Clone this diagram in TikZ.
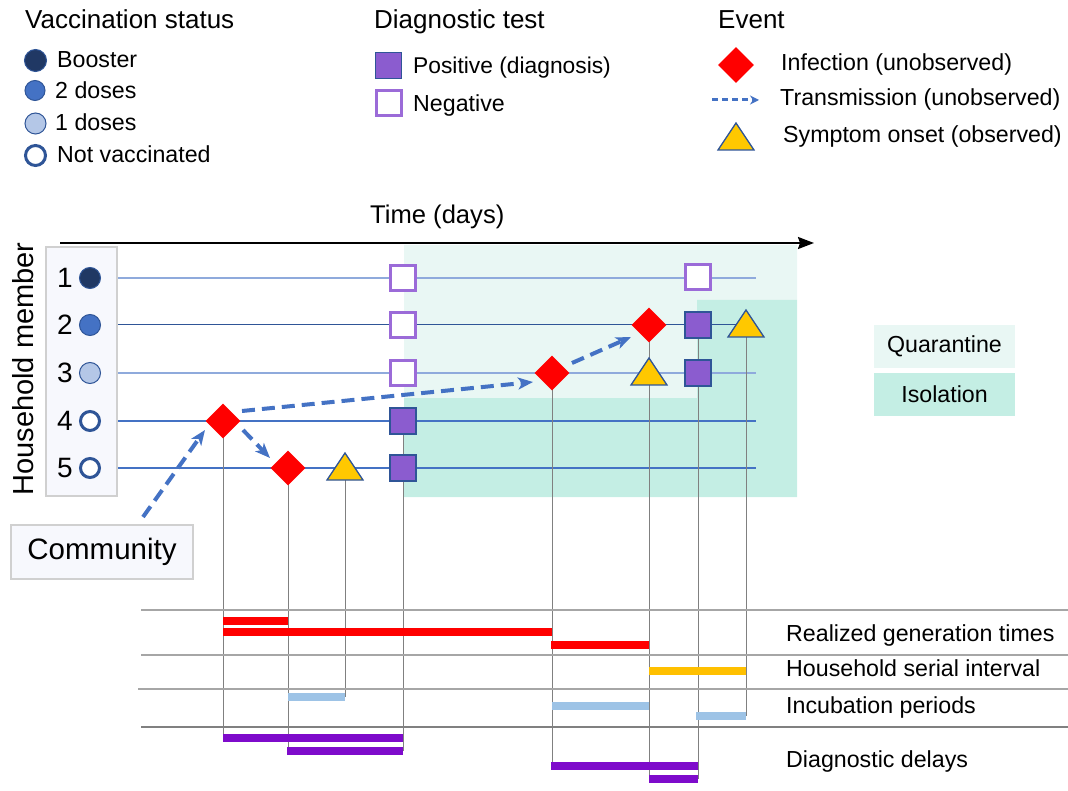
\documentclass[tikz,border=0pt]{standalone}
\usepackage{fontspec}
\setmainfont{Liberation Sans}
\usetikzlibrary{shapes.geometric,arrows.meta,calc}
\pgfdeclarelayer{bg}
\pgfdeclarelayer{mid}
\pgfsetlayers{bg,mid,main}
\definecolor{navy}{HTML}{203864}
\definecolor{mblue}{HTML}{4472C4}
\definecolor{lblue}{HTML}{B4C7E7}
\definecolor{dblue}{HTML}{2F5597}
\definecolor{rowlight}{HTML}{8FAADC}
\definecolor{posc}{HTML}{8B5CCF}
\definecolor{negc}{HTML}{9B6BD8}
\definecolor{tric}{HTML}{FFC800}
\definecolor{qcol}{HTML}{E9F7F4}
\definecolor{icol}{HTML}{C4EEE4}
\definecolor{barpurple}{HTML}{7E0BCB}
\definecolor{barblue}{HTML}{9DC3E6}
\definecolor{barorange}{HTML}{FFC000}
\definecolor{sepgray}{HTML}{A6A6A6}
\definecolor{vgray}{HTML}{808080}
\definecolor{boxgray}{HTML}{D0D0D0}
\definecolor{boxfill}{HTML}{F7F8FD}
\tikzset{
  txt/.style={font=\fontsize{23.2}{28}\selectfont, inner sep=0pt, anchor=base west},
  head/.style={font=\fontsize{26}{30}\selectfont, inner sep=0pt, anchor=base west},
  negsq/.style={rectangle, draw=negc, line width=3pt, fill=white, minimum size=25pt, inner sep=0pt},
  possq/.style={rectangle, draw=dblue, line width=1.4pt, fill=posc, minimum size=26pt, inner sep=0pt},
  inf/.style={diamond, fill=red, minimum size=35pt, inner sep=0pt, aspect=1},
  trans/.style={draw=mblue, line width=4pt, dash pattern=on 13pt off 7pt, -{Stealth[length=15pt,width=12pt,inset=4pt]}},
  rowline/.style={draw=mblue, line width=1.2pt},
  vline/.style={draw=vgray, line width=1pt},
  sep/.style={draw=sepgray, line width=2pt},
  bar/.style={line width=8pt},
  vacc/.style={circle, inner sep=0pt, minimum size=21pt},
  tri/.pic={\draw[fill=tric, draw=dblue, line width=1.3pt, line join=miter] (-18,12) -- (18,12) -- (0,-15) -- cycle;},
}
\begin{document}
\begin{tikzpicture}[x=1pt,y=-1pt]
\useasboundingbox (0,0) rectangle (1068,791);

% ---------- Legend: vaccination ----------
\node[head] (hv) at (25,29) {Vaccination status};
\node[vacc, fill=navy, draw=dblue, line width=1pt, minimum size=22pt] (lv1) at (35.5,60.5) {};
\node[txt] (tv1) at (57,68) {Booster};
\node[vacc, fill=mblue, draw=dblue, line width=1pt, minimum size=20pt] (lv2) at (35,90.5) {};
\node[txt] (tv2) at (55,99) {2 doses};
\node[vacc, fill=lblue, draw=dblue, line width=1pt] (lv3) at (35.5,123.5) {};
\node[txt] (tv3) at (55,131) {1 doses};
\node[vacc, fill=white, draw=dblue, line width=3pt, minimum size=20pt] (lv4) at (35.5,155.5) {};
\node[txt] (tv4) at (57,163) {Not vaccinated};

% ---------- Legend: diagnostic test ----------
\node[head] (hd) at (374,29) {Diagnostic test};
\node[possq] (lp) at (388.5,65.5) {};
\node[txt, font=\fontsize{22.8}{28}\selectfont] (tp) at (413,74) {Positive (diagnosis)};
\node[negsq] (ln) at (389,103.5) {};
\node[txt] (tn) at (413,112) {Negative};

% ---------- Legend: event ----------
\node[head] (he) at (718,29) {Event};
\node[inf, minimum size=36pt] (li) at (736,65) {};
\node[txt] (ti) at (781,71) {Infection (unobserved)};
\coordinate (lta) at (712,100);
\coordinate (ltb) at (759,100);
\draw[draw=mblue, line width=3pt, dash pattern=on 6pt off 4pt, -{Stealth[length=9pt,width=9pt,inset=3pt]}] (lta) -- (ltb);
\node[txt] (tt) at (780,106) {Transmission (unobserved)};
\coordinate (ls) at (736,138);
\pic at (ls) {tri};
\node[txt] (ts) at (783,143) {Symptom onset (observed)};

% ---------- Time axis ----------
\node[font=\fontsize{25.6}{30}\selectfont, inner sep=0pt, anchor=base west] (time) at (370,224) {Time (days)};
\coordinate (ta) at (60,243);
\coordinate (tb) at (814,243);
\draw[line width=2pt, -{Stealth[length=16pt,width=12pt,inset=2pt]}] (ta) -- (tb);

% ---------- Shading ----------
\begin{pgfonlayer}{bg}
\fill[qcol] (404,245) -- (797,245) -- (797,300) -- (697,300) -- (697,398) -- (404,398) -- cycle;
\fill[icol] (404,398) -- (697,398) -- (697,300) -- (797,300) -- (797,497) -- (404,497) -- cycle;
\end{pgfonlayer}
\node[fill=qcol, minimum width=141pt, minimum height=43pt, inner sep=0pt, font=\fontsize{23.2}{28}\selectfont] (lq) at (944.5,346.5) {Quarantine};
\node[fill=icol, minimum width=141pt, minimum height=43pt, inner sep=0pt, font=\fontsize{23.2}{28}\selectfont] (liso) at (944.5,394.5) {Isolation};

% ---------- Household box ----------
\node[draw=boxgray, line width=2pt, fill=boxfill, minimum width=71pt, minimum height=249pt, inner sep=0pt] (hbox) at (81.5,371.5) {};
\node[rotate=90, font=\fontsize{29}{32}\selectfont, inner sep=0pt] (hm) at (23,369) {Household member};
\foreach \i/\y in {1/278,2/325,3/373,4/421,5/468}{
  \node[font=\fontsize{28}{32}\selectfont, inner sep=0pt] (n\i) at (65,\y) {\i};
}
\node[vacc, fill=navy, draw=dblue, line width=1pt] (c1) at (90,278) {};
\node[vacc, fill=mblue, draw=dblue, line width=1pt] (c2) at (90,325) {};
\node[vacc, fill=lblue, draw=dblue, line width=1pt] (c3) at (90,373) {};
\node[vacc, fill=white, draw=dblue, line width=3pt, minimum size=19pt] (c4) at (90,421) {};
\node[vacc, fill=white, draw=dblue, line width=3pt, minimum size=19pt] (c5) at (90,468) {};
\coordinate (r1) at (756,278);
\coordinate (r2) at (756,325);
\coordinate (r3) at (756,373);
\coordinate (r4) at (756,421);
\coordinate (r5) at (756,468);

% ---------- Events ----------
\node[negsq] (a1) at (403,278) {};
\node[negsq] (a2) at (403,325) {};
\node[negsq] (a3) at (403,373) {};
\node[possq] (p4) at (403,421) {};
\node[possq] (p5) at (403,468) {};
\node[negsq] (b1) at (698,277) {};
\node[inf] (d2) at (649,325) {};
\node[possq] (p2) at (698,325) {};
\coordinate (s2) at (746,325);
\pic at (s2) {tri};
\node[inf] (d3) at (552,373) {};
\coordinate (s3) at (649,373);
\pic at (s3) {tri};
\node[possq] (p3) at (698,373) {};
\node[inf] (d4) at (223,421) {};
\node[inf] (d5) at (288,468) {};
\coordinate (s5) at (345,468);
\pic at (s5) {tri};

% ---------- Row lines and vertical drops ----------
\coordinate (v223) at (223,738);
\coordinate (v288) at (288,751);
\coordinate (v345) at (345,697);
\coordinate (v403) at (403,751);
\coordinate (v552) at (552,766);
\coordinate (v649) at (649,779);
\coordinate (v698) at (698,779);
\coordinate (v746) at (746,716);
\begin{pgfonlayer}{mid}
\draw[rowline, draw=rowlight] (c1.center) -- (r1);
\draw[rowline, draw=dblue, line width=1pt] (c2.center) -- (r2);
\draw[rowline, draw=rowlight] (c3.center) -- (r3);
\draw[rowline] (c4.center) -- (r4);
\draw[rowline] (c5.center) -- (r5);
\draw[vline] (d4.center) -- (v223);
\draw[vline] (d5.center) -- (v288);
\draw[vline] (s5) -- (v345);
\draw[vline] (p4.center) -- (v403);
\draw[vline] (d3.center) -- (v552);
\draw[vline] (d2.center) -- (v649);
\draw[vline] (p2.center) -- (v698);
\draw[vline] (s2) -- (v746);
\end{pgfonlayer}

% ---------- Community and transmissions ----------
\node[draw=boxgray, line width=1.5pt, fill=boxfill, minimum width=182pt, minimum height=54pt, inner sep=0pt, font=\fontsize{29.5}{33}\selectfont] (comm) at (102,552) {Community};
\coordinate (cs) at (143,517);
\draw[trans] (cs) -- ([shift={(-18,9)}]d4.center);
\draw[trans] ([shift={(20,9)}]d4.center) -- ([shift={(-18,-10)}]d5.center);
\draw[trans] ([shift={(19,-10)}]d4.center) -- ([shift={(-19,9)}]d3.center);
\draw[trans] ([shift={(20,-10)}]d3.center) -- ([shift={(-18,12)}]d2.center);

% ---------- Bottom panel ----------
\coordinate (sa1) at (141,610); \coordinate (sb1) at (1068,610);
\coordinate (sa2) at (141,655); \coordinate (sb2) at (1068,655);
\coordinate (sa3) at (138,689); \coordinate (sb3) at (1068,689);
\coordinate (sa4) at (141,727); \coordinate (sb4) at (1068,727);
\draw[sep] (sa1) -- (sb1);
\draw[sep] (sa2) -- (sb2);
\draw[sep] (sa3) -- (sb3);
\draw[sep, draw=vgray, line width=1.5pt] (sa4) -- (sb4);

\draw[bar, red] (223,621) -- (288,621);
\draw[bar, red] (223,632) -- (552,632);
\draw[bar, red] (551,645) -- (649,645);
\draw[bar, barorange] (649,671) -- (746,671);
\draw[bar, barblue] (288,697) -- (345,697);
\draw[bar, barblue] (552,706) -- (649,706);
\draw[bar, barblue] (696,716) -- (746,716);
\draw[bar, barpurple] (223,738) -- (403,738);
\draw[bar, barpurple] (287,751) -- (403,751);
\draw[bar, barpurple] (551,766) -- (698,766);
\draw[bar, barpurple] (649,779) -- (698,779);

\node[txt] (g1) at (786,641) {Realized generation times};
\node[txt] (g2) at (786,676) {Household serial interval};
\node[txt] (g3) at (786,713) {Incubation periods};
\node[txt] (g4) at (786,767) {Diagnostic delays};
\end{tikzpicture}
\end{document}
